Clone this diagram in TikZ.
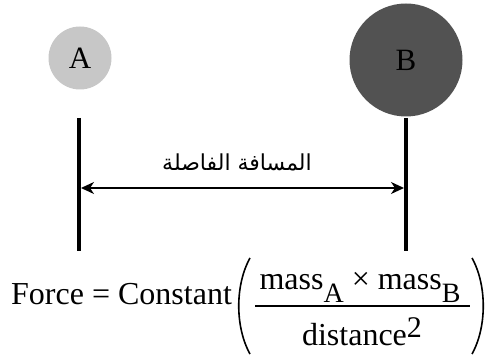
\documentclass[tikz,border=0pt]{standalone}
\usepackage{fontspec}
\setmainfont{Liberation Serif}
\newfontfamily\arabicfont[Script=Arabic]{DejaVu Sans}
\TeXXeTstate=1
\usetikzlibrary{arrows.meta}
\tikzset{
  ball/.style={circle, inner sep=0pt, font=\fontsize{31}{32}\selectfont},
  wall/.style={line width=4pt},
  span/.style={line width=1.5pt, {Stealth[length=13pt,width=12pt,inset=4pt]}-{Stealth[length=13pt,width=12pt,inset=4pt]}},
  eqtext/.style={inner sep=0pt, font=\fontsize{32}{36}\selectfont},
  fractext/.style={inner sep=0pt, font=\fontsize{32}{36}\selectfont},
  paren/.style={line width=1.6pt},
}
\newcommand{\lowsub}[1]{\raisebox{-13pt}{\fontsize{28}{30}\selectfont #1}}
\begin{document}
\begin{tikzpicture}[x=1pt,y=-1pt]
\useasboundingbox (0,0) rectangle (487,355);
% balls
\node[ball, fill=black!22, minimum size=63pt] (A) at (80,58) {A};
\node[ball, fill=black!68, minimum size=113pt] (B) at (406,60) {B};
% walls
\coordinate (LT) at (79,118);
\coordinate (LB) at (79,251);
\coordinate (RT) at (406,118);
\coordinate (RB) at (406,251);
\draw[wall] (LT) -- (LB);
\draw[wall] (RT) -- (RB);
% distance arrow
\coordinate (LA) at (81,188);
\coordinate (RA) at (404,188);
\draw[span] (LA) -- (RA);
\node[inner sep=0pt, font=\fontsize{22}{26}\selectfont\arabicfont] (dist) at (237,162) {\beginR المسافة الفاصلة\endR};
% formula
\node[eqtext, anchor=base west] (force) at (11,305) {Force = Constant};
\node[fractext, anchor=base] (num) at (360,290) {mass\lowsub{A} × mass\lowsub{B}};
\node[fractext, anchor=base] (den) at (362,345) {distance\raisebox{8pt}{\fontsize{30}{30}\selectfont 2}};
\coordinate (FL) at (255,306);
\coordinate (FR) at (470,306);
\draw[line width=1.5pt] (FL) -- (FR);
\coordinate (P1) at (250,258);
\coordinate (P2) at (250,354);
\coordinate (P3) at (472,258);
\coordinate (P4) at (472,354);
\draw[paren] (P1) .. controls (235,285) and (235,327) .. (P2);
\draw[paren] (P3) .. controls (487,285) and (487,327) .. (P4);
\end{tikzpicture}
\end{document}
